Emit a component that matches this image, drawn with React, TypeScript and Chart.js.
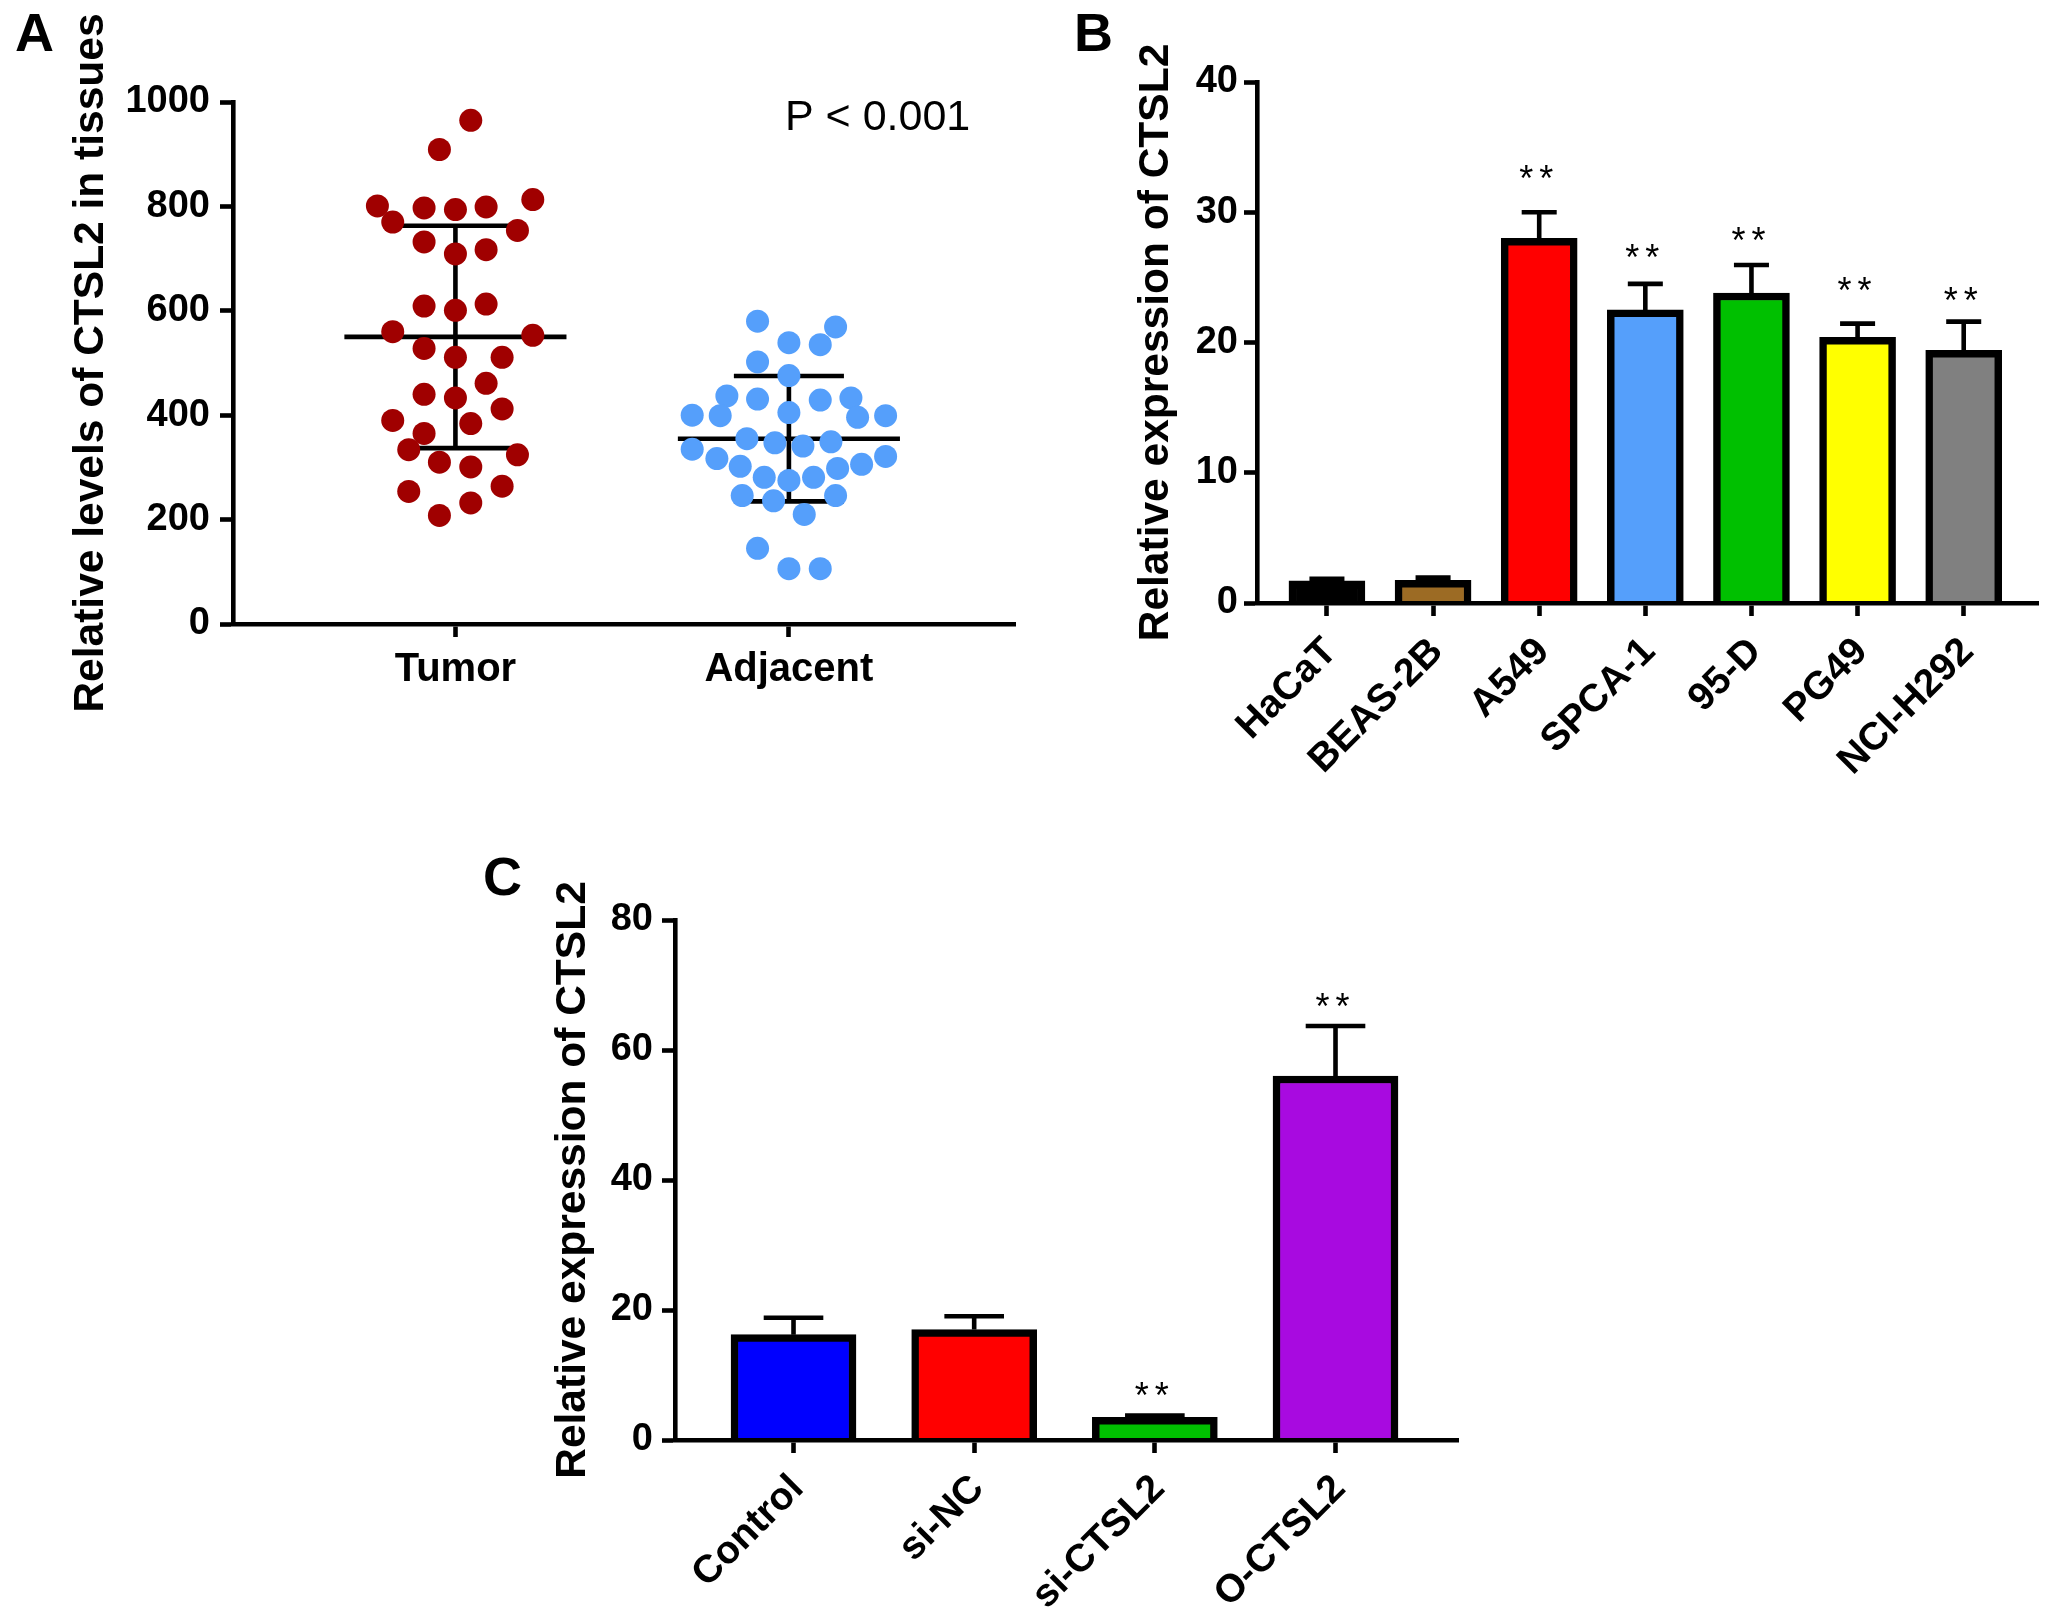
import React, { useEffect, useRef } from 'react';
import { Chart, registerables } from 'chart.js';

Chart.register(...registerables);
Chart.defaults.font.family = '"Liberation Sans", Arial, sans-serif';
Chart.defaults.color = '#000';

// panel A
const swarmLabels = ['Tumor', 'Adjacent'];
const tumorX = [1.046, 0.952, 0.766, 0.906, 1, 1.092, 1.232, 0.812, 1.186, 0.906, 1, 1.092, 0.906, 1, 1.092, 0.812, 1.232, 0.906, 1, 1.14, 1.092, 0.906, 1, 1.14, 0.812, 1.046, 0.906, 0.86, 1.186, 0.952, 1.046, 1.14, 0.86, 1.046, 0.952];
const tumorY = [965, 909, 801, 797, 794, 799, 813, 770, 754, 732, 709, 717, 609, 601, 613, 560, 553, 528, 511, 511, 461, 440, 433, 412, 390, 384, 365, 334, 324, 310, 301, 264, 254, 232, 208];
const adjacentX = [1.906, 2.14, 2, 2.094, 1.906, 2, 1.814, 1.906, 2.094, 2.186, 1.71, 1.794, 2, 2.206, 2.29, 1.874, 1.958, 2.042, 2.126, 1.71, 1.784, 2.29, 2.218, 1.854, 2.146, 1.926, 2.074, 2, 1.86, 2.14, 1.954, 2.046, 1.906, 2, 2.094];
const adjacentY = [580, 569, 539, 535, 502, 476, 437, 431, 429, 433, 400, 399, 405, 396, 399, 355, 347, 341, 349, 335, 317, 321, 306, 302, 298, 281, 281, 275, 246, 246, 236, 210, 145, 106, 106];
const swarmMean = [550, 355];
const swarmUpper = [763, 475];
const swarmLower = [337, 235];
const swarmTicks = [0, 200, 400, 600, 800, 1000];

// panel B
const cellLabels = ['HaCaT', 'BEAS-2B', 'A549', 'SPCA-1', '95-D', 'PG49', 'NCI-H292'];
const cellValues = [1.7, 1.75, 28.0, 22.5, 23.8, 20.4, 19.4];
const cellErrors = [1.85, 1.95, 30.0, 24.5, 25.95, 21.45, 21.6];
const cellColors = ['#000000', '#9c6b24', '#ff0000', '#559ffb', '#00c000', '#ffff00', '#808080'];
const cellStars = [null, null, 32.36, 26.3, 27.6, 23.8, 23.0];
const cellTicks = [0, 10, 20, 30, 40];

// panel C
const groupLabels = ['Control', 'si-NC', 'si-CTSL2', 'O-CTSL2'];
const groupValues = [16.2, 17.0, 3.5, 56.0];
const groupErrors = [18.8, 19.05, 3.77, 63.7];
const groupColors = ['#0000ff', '#ff0000', '#00c000', '#a80ae0'];
const groupStars = [null, null, 6.45, 66.3];
const groupTicks = [0, 20, 40, 60, 80];

const AXIS = 4.6;
const TICK = 13;
const TITLE_SIZE = 42.5;

function axes(opts: any) {
  return {
    x: {
      type: 'linear',
      offset: false,
      min: opts.xMin,
      max: opts.xMax,
      afterBuildTicks: (s: any) => { s.ticks = opts.labels.map((_: string, i: number) => ({ value: i + 1 })); },
      afterFit: (s: any) => { s.height = opts.xHeight; },
      grid: { offset: false, drawOnChartArea: false, tickLength: TICK, tickColor: '#000', tickWidth: AXIS },
      border: { color: '#000', width: AXIS, z: 1 },
      ticks: {
        autoSkip: false,
        minRotation: opts.rotation,
        maxRotation: opts.rotation,
        padding: opts.xPad,
        labelOffset: opts.labelOffset ?? 0,
        font: { size: opts.xSize, weight: 'bold' },
        callback: (v: number) => opts.labels[v - 1],
      },
    },
    y: {
      min: 0,
      max: opts.yTicks[opts.yTicks.length - 1],
      afterBuildTicks: (s: any) => { s.ticks = opts.yTicks.map((v: number) => ({ value: v })); },
      afterFit: (s: any) => { s.width = opts.yWidth; },
      grid: { drawOnChartArea: false, tickLength: TICK, tickColor: '#000', tickWidth: AXIS },
      border: { color: '#000', width: AXIS, z: 1 },
      ticks: { padding: opts.yPad, font: { size: opts.ySize, weight: 'bold' }, callback: (v: number) => String(v) },
      title: {
        display: true,
        text: opts.title,
        font: { size: TITLE_SIZE, weight: 'bold' },
        padding: { top: opts.titlePad, bottom: 0 },
      },
    },
  };
}

function whisker(x: number, from: number, to: number, halfCap: number) {
  return {
    type: 'line',
    order: 2,
    data: [{ x, y: from }, { x, y: to }, { x: x - halfCap, y: to }, { x: x + halfCap, y: to }],
    borderColor: '#000',
    borderWidth: 4.6,
    pointRadius: 0,
    tension: 0,
    borderCapStyle: 'butt',
  };
}

function hLine(x: number, y: number, half: number) {
  return {
    type: 'line',
    order: 2,
    data: [{ x: x - half, y }, { x: x + half, y }],
    borderColor: '#000',
    borderWidth: 4.6,
    pointRadius: 0,
  };
}

function SwarmPanel() {
  const ref = useRef<HTMLCanvasElement>(null);
  useEffect(() => {
    if (!ref.current) return;
    const pValue = {
      id: 'pValue',
      afterDatasetsDraw(chart: any) {
        const { ctx, scales } = chart;
        ctx.save();
        ctx.font = '43px "Liberation Sans"';
        ctx.textAlign = 'center';
        ctx.textBaseline = 'middle';
        ctx.fillStyle = '#000';
        ctx.fillText('P < 0.001', scales.x.getPixelForValue(2.266), scales.y.getPixelForValue(970));
        ctx.restore();
      },
    };
    const lines: any[] = [];
    swarmMean.forEach((m, i) => {
      lines.push(hLine(i + 1, m, 0.333));
      lines.push(whisker(i + 1, swarmLower[i], swarmUpper[i], 0.165));
      lines.push(hLine(i + 1, swarmLower[i], 0.165));
    });
    const chart = new Chart(ref.current, {
      type: 'scatter',
      data: {
        datasets: [
          { order: 1, data: tumorX.map((x, i) => ({ x, y: tumorY[i] })), backgroundColor: '#a00000', borderWidth: 0, pointRadius: 11.5 },
          { order: 1, data: adjacentX.map((x, i) => ({ x, y: adjacentY[i] })), backgroundColor: '#559ffb', borderWidth: 0, pointRadius: 11.5 },
          ...lines,
        ],
      } as any,
      options: {
        responsive: false,
        animation: false,
        layout: { padding: { top: 102, right: 15, bottom: 0, left: 0 } },
        plugins: { legend: { display: false }, tooltip: { enabled: false } },
        scales: axes({
          labels: swarmLabels, xMin: 0.333, xMax: 2.678, xHeight: 116, rotation: 0, xPad: 9, xSize: 40, ySize: 38, yPad: 10,
          yTicks: swarmTicks, yWidth: 233, title: 'Relative levels of CTSL2 in tissues', titlePad: 66,
        }) as any,
      },
      plugins: [pValue],
    });
    return () => chart.destroy();
  }, []);
  return <canvas ref={ref} width={1030} height={740} style={{ position: 'absolute', left: 0, top: 0 }} />;
}

interface BarPanelProps {
  labels: string[];
  values: number[];
  errors: number[];
  colors: string[];
  stars: (number | null)[];
  yTicks: number[];
  xMin: number;
  xMax: number;
  thickness: number;
  halfCap: number;
  left: number;
  top: number;
  width: number;
  height: number;
  xHeight: number;
  yWidth: number;
  yPad: number;
  padTop: number;
  titlePad: number;
}

function BarPanel(p: BarPanelProps) {
  const ref = useRef<HTMLCanvasElement>(null);
  useEffect(() => {
    if (!ref.current) return;
    const starLabels = {
      id: 'starLabels',
      afterDatasetsDraw(chart: any) {
        const { ctx, scales } = chart;
        ctx.save();
        ctx.font = '36px "Liberation Sans"';
        ctx.letterSpacing = '6px';
        ctx.textAlign = 'center';
        ctx.textBaseline = 'middle';
        ctx.fillStyle = '#000';
        p.stars.forEach((s, i) => {
          if (s !== null) ctx.fillText('**', scales.x.getPixelForValue(i + 1), scales.y.getPixelForValue(s));
        });
        ctx.restore();
      },
    };
    const chart = new Chart(ref.current, {
      type: 'bar',
      data: {
        datasets: [
          {
            order: 1,
            data: p.values.map((y, i) => ({ x: i + 1, y })),
            backgroundColor: p.colors,
            borderColor: '#000',
            borderWidth: 7.5,
            borderSkipped: 'bottom',
            barThickness: p.thickness,
          },
          ...p.values.map((v, i) => whisker(i + 1, v, p.errors[i], p.halfCap)),
        ],
      } as any,
      options: {
        responsive: false,
        animation: false,
        layout: { padding: { top: p.padTop, right: 12, bottom: 0, left: 0 } },
        plugins: { legend: { display: false }, tooltip: { enabled: false } },
        scales: axes({
          labels: p.labels, xMin: p.xMin, xMax: p.xMax, xHeight: p.xHeight, rotation: 45, xPad: 13, labelOffset: 4, xSize: 39, ySize: 38, yPad: p.yPad,
          yTicks: p.yTicks, yWidth: p.yWidth, title: 'Relative expression of CTSL2', titlePad: p.titlePad,
        }) as any,
      },
      plugins: [starLabels],
    });
    return () => chart.destroy();
  }, []);
  return <canvas ref={ref} width={p.width} height={p.height} style={{ position: 'absolute', left: p.left, top: p.top }} />;
}

const letterStyle: React.CSSProperties = {
  position: 'absolute',
  font: 'bold 54px/54px "Liberation Sans", Arial, sans-serif',
  color: '#000',
};

export default function App() {
  return (
    <div style={{ position: 'absolute', left: 0, top: 0, width: 2050, height: 1614, background: '#fff' }}>
      <SwarmPanel />
      <BarPanel
        labels={cellLabels} values={cellValues} errors={cellErrors} colors={cellColors} stars={cellStars} yTicks={cellTicks}
        xMin={0.341} xMax={7.7} thickness={76} halfCap={0.165}
        left={1100} top={20} width={950} height={780} xHeight={197} yWidth={157} yPad={6} padTop={62} titlePad={31}
      />
      <BarPanel
        labels={groupLabels} values={groupValues} errors={groupErrors} colors={groupColors} stars={groupStars} yTicks={groupTicks}
        xMin={0.344} xMax={4.678} thickness={125} halfCap={0.165}
        left={520} top={860} width={950} height={754} xHeight={174} yWidth={155} yPad={9} padTop={60} titlePad={28}
      />
      <div style={{ ...letterStyle, left: 15, top: 5 }}>A</div>
      <div style={{ ...letterStyle, left: 1074, top: 5 }}>B</div>
      <div style={{ ...letterStyle, left: 483, top: 849 }}>C</div>
    </div>
  );
}
